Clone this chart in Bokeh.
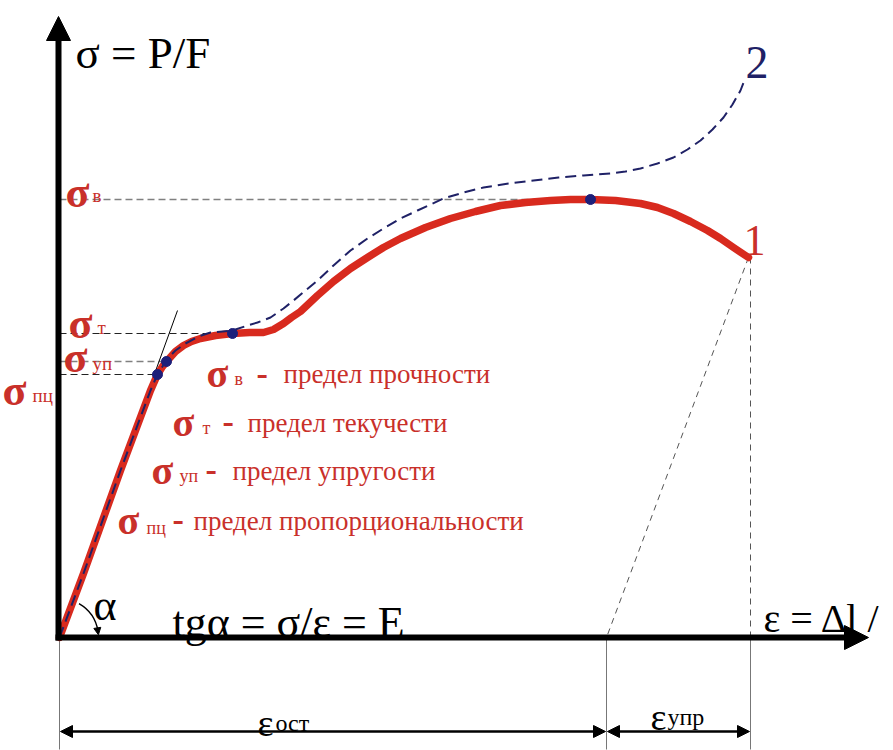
import math
from bokeh.plotting import figure
from bokeh.models import Range1d, Arrow, NormalHead
from bokeh.core.properties import value
from bokeh.embed import file_html
from bokeh.resources import INLINE

# ---------------- data (strain eps, stress sigma; arbitrary units) ----------------
# curve 1: real material (with necking)
eps1 = [0, 24, 61, 91, 98, 103, 108, 116, 124, 132, 141, 156, 173, 190, 204, 214, 224, 232,
        241, 258, 274, 291, 308, 324, 341, 366, 391, 416, 441, 466, 491, 511, 531, 556,
        581, 598, 614, 631, 648, 661, 674, 689]
sig1 = [0, 64, 167, 247, 263, 271, 277, 286, 292, 296, 299, 302, 304, 305, 305, 308, 314, 320,
        326, 342, 356, 369, 380, 390, 399, 410, 419, 426, 432, 435, 437, 438, 438, 437,
        434, 430, 424, 416, 407, 399, 390, 380]
# curve 2: true stress (dashed)
eps2 = [0, 24, 61, 91, 98, 108, 116, 126, 139, 151, 173, 188, 198, 211, 224, 234, 246, 258,
        274, 291, 308, 324, 341, 358, 384, 404, 424, 449, 474, 499, 524, 551, 566, 581,
        598, 614, 628, 641, 653, 664, 673, 681, 686]
sig2 = [0, 64, 167, 247, 263, 279, 287, 294, 301, 305, 307, 312, 315, 320, 329, 337, 347, 357,
        372, 387, 399, 409, 419, 427, 439, 445, 450, 454, 457, 460, 462, 464, 466, 469,
        474, 480, 488, 497, 508, 520, 533, 547, 560]

# characteristic stresses
sig_pc, sig_up, sig_t, sig_v = 263, 276, 304, 438
dot_eps = [98, 107, 173, 531]
dot_sig = [sig_pc, sig_up, sig_t, sig_v]
eps_end, sig_end = 689, 380        # rupture point
eps_ost = 547                      # residual strain
eps_axis_max, sig_axis_max = 809, 621
tangent_eps = [85, 118]
tangent_sig = [236, 327]

legend_sym = ["σ", "σ", "σ", "σ"]
legend_sub = ["в", "т", "уп", "пц"]
legend_txt = ["предел прочности", "предел текучести", "предел упругости",
              "предел пропорциональности"]

RED = "#d82a1e"
RED_T = "#c9302a"
NAVY = "#1f2166"
GREY = "#808080"
SERIF = value("Liberation Serif")

p = figure(width=893, height=750, x_range=Range1d(-59, 834), y_range=Range1d(-113, 637),
           output_backend="svg", toolbar_location=None, x_axis_type=None, y_axis_type=None,
           min_border=0, min_border_left=0, min_border_right=0, min_border_top=0,
           min_border_bottom=0)
p.outline_line_color = None
p.background_fill_color = "white"
p.border_fill_color = "white"

# reference dashed levels
p.line([0, dot_eps[3]], [sig_v, sig_v], line_color=GREY, line_width=1.3, line_dash="7 4")
p.line([0, dot_eps[2]], [sig_t, sig_t], line_color="#222222", line_width=1.1, line_dash="7 4")
p.line([0, dot_eps[1]], [sig_up, sig_up], line_color=GREY, line_width=1.3, line_dash="7 4")
p.line([0, dot_eps[0]], [sig_pc, sig_pc], line_color="#222222", line_width=1.1, line_dash="7 4")

# unloading lines
p.line([eps_end, eps_ost], [sig_end, 0], line_color="#555555", line_width=1, line_dash="6 5")
p.line([eps_end + 2, eps_end + 2], [sig_end, 0], line_color="#555555", line_width=1, line_dash="6 5")
# extension lines below axis
for e in [0, eps_ost, eps_end + 2]:
    p.line([e, e], [0, -112], line_color="#777777", line_width=1)

# tangent
p.line(tangent_eps, tangent_sig, line_color="black", line_width=1)

# curves
p.line(eps1, sig1, line_color=RED, line_width=7.5, line_join="round", line_cap="round")
p.line(eps2, sig2, line_color=NAVY, line_width=2, line_dash="11 6", line_join="round")
p.scatter(dot_eps, dot_sig, size=10, fill_color="#1d1f7a", line_color="#1d1f7a")

# axes arrows
p.add_layout(Arrow(end=NormalHead(size=24, fill_color="black", line_color="black"),
                   x_start=-1, y_start=-3, x_end=-1, y_end=sig_axis_max,
                   line_width=6, line_color="black"))
p.add_layout(Arrow(end=NormalHead(size=24, fill_color="black", line_color="black"),
                   x_start=-4, y_start=0, x_end=eps_axis_max, y_end=0,
                   line_width=6, line_color="black"))
# dimension arrows
for a, b in [(0, eps_ost), (eps_ost, eps_end + 2)]:
    p.add_layout(Arrow(start=NormalHead(size=12, fill_color="black", line_color="black"),
                       end=NormalHead(size=12, fill_color="black", line_color="black"),
                       x_start=a + 1, y_start=-94, x_end=b - 1, y_end=-94,
                       line_width=2.5, line_color="black"))

# angle alpha arc
p.arc(x=[0], y=[0], radius=39, start_angle=math.radians(9), end_angle=math.radians(60),
      line_color="black", line_width=1.4)
p.add_layout(Arrow(end=NormalHead(size=7, fill_color="black", line_color="black"),
                   x_start=39 * math.cos(math.radians(14)), y_start=39 * math.sin(math.radians(14)),
                   x_end=39 * math.cos(math.radians(4)), y_end=39 * math.sin(math.radians(4)),
                   line_width=1.4, line_color="black"))

def txt(x, y, s, size, color="black", style="normal", font=SERIF):
    p.text(x=[x], y=[y], text=[s], text_font=font, text_font_size=f"{size}px",
           text_color=color, text_font_style=style, text_baseline="alphabetic",
           text_align="left")

# black labels
txt(16, 585, "σ = P/F", 45)
txt(113, 15, "tgα =  σ/ε = E", 44)
txt(34, 32, "α", 44)
txt(704, 19, "ε = Δl /", 40)
txt(198, -85, "ε", 38)
txt(216, -85, "ост", 24)
txt(591, -79, "ε", 38)
txt(608, -79, "упр", 24)

# curve numbers
txt(686, 575, "2", 46, NAVY)
txt(684, 397, "1", 44, RED_T)

# left axis sigma labels
left_pos = [(6, 445, 33, 442), (9, 314, 38, 310), (4, 280, 33, 274), (-57, 247, -27, 242)]
left_sub = ["в", "т", "уп", "пц"]
for (sx, sy, bx, by), sb in zip(left_pos, left_sub):
    txt(sx, sy, "σ", 44, RED_T, "bold")
    txt(bx, by, sb, 19, RED_T)

# legend rows
leg_pos = [(147, 264, 175, 259, 197, 264, 224, 264),
           (113, 215, 143, 210, 163, 216, 188, 215),
           (92, 167, 120, 162, 146, 168, 173, 167),
           (58, 117, 87, 110, 113, 118, 134, 117)]
for (sx, sy, bx, by, dx, dy, tx, ty), s, sb, t in zip(leg_pos, legend_sym, legend_sub, legend_txt):
    txt(sx, sy, s, 40, RED_T, "bold")
    txt(bx, by, sb, 18, RED_T)
    txt(dx, dy, "-", 34, RED_T, "bold")
    txt(tx, ty, t, 27, RED_T)

open("out.html", "w").write(file_html(p, INLINE))
